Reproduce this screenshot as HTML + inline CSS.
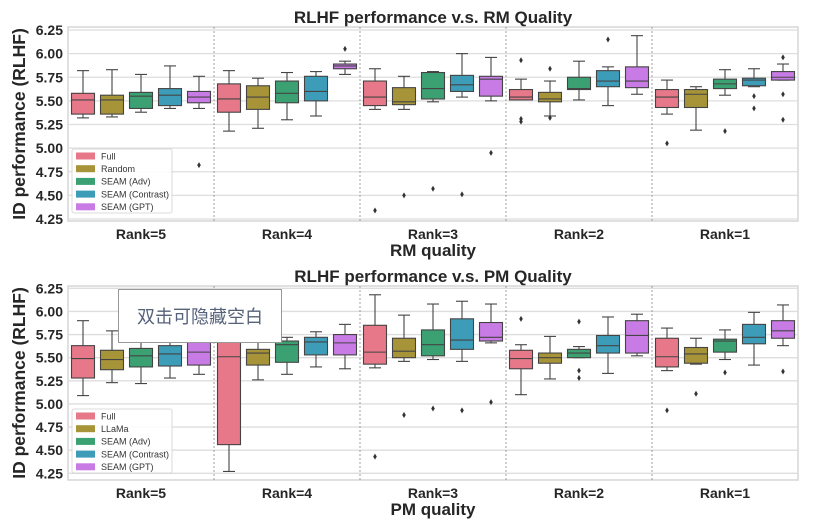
<!DOCTYPE html>
<html><head><meta charset="utf-8"><style>
body{margin:0;background:#fff;}
svg{display:block;font-family:"Liberation Sans","Noto Sans CJK SC",sans-serif;}
</style></head><body>
<svg id="fig" width="820" height="523" viewBox="0 0 820 523"></svg>
<script>
const ranks = ["Rank=5","Rank=4","Rank=3","Rank=2","Rank=1"];
const yTicks = [6.25,6.00,5.75,5.50,5.25,5.00,4.75,4.50,4.25];
const rmSeriesNames = ["Full","Random","SEAM (Adv)","SEAM (Contrast)","SEAM (GPT)"];
const pmSeriesNames = ["Full","LLaMa","SEAM (Adv)","SEAM (Contrast)","SEAM (GPT)"];
const colors = ["#e6788a","#a79438","#3ba172","#3d9db8","#c87be4"];
// [low whisker, q1, median, q3, high whisker] per rank
const rmFull = [[5.32,5.36,5.51,5.58,5.82],[5.18,5.38,5.52,5.68,5.82],[5.41,5.45,5.54,5.71,5.84],[5.51,5.51,5.54,5.62,5.73],[5.36,5.43,5.54,5.62,5.72]];
const rmRandom = [[5.33,5.36,5.51,5.56,5.83],[5.21,5.41,5.54,5.66,5.74],[5.41,5.46,5.49,5.64,5.76],[5.34,5.49,5.52,5.59,5.71],[5.19,5.43,5.57,5.62,5.65]];
const rmAdv = [[5.38,5.42,5.55,5.59,5.78],[5.30,5.48,5.58,5.71,5.80],[5.49,5.52,5.63,5.80,5.81],[5.51,5.62,5.63,5.75,5.92],[5.56,5.63,5.68,5.73,5.83]];
const rmContrast = [[5.42,5.45,5.56,5.63,5.87],[5.34,5.50,5.60,5.76,5.81],[5.54,5.60,5.67,5.77,6.00],[5.45,5.65,5.71,5.82,5.86],[5.65,5.66,5.72,5.74,5.84]];
const rmGPT = [[5.42,5.48,5.54,5.60,5.76],[5.78,5.84,5.87,5.89,5.92],[5.50,5.55,5.73,5.76,5.96],[5.57,5.64,5.71,5.86,6.19],[5.72,5.72,5.75,5.81,5.89]];
const rmOutliers = [[[],[],[],[],[4.82]],[[],[],[],[],[6.05]],[[4.34],[4.50],[4.57],[4.51],[4.95]],[[5.93,5.31,5.28],[5.84,5.32],[],[6.15],[]],[[5.05],[],[5.18],[5.55,5.42],[5.96,5.57,5.30]]];
const pmFull = [[5.09,5.28,5.49,5.63,5.90],[4.27,4.56,5.51,5.70,5.85],[5.39,5.43,5.56,5.85,6.18],[5.10,5.38,5.49,5.58,5.64],[5.36,5.40,5.51,5.71,5.82]];
const pmLLaMa = [[5.23,5.37,5.48,5.58,5.79],[5.26,5.42,5.55,5.59,5.70],[5.46,5.50,5.57,5.71,5.96],[5.27,5.44,5.50,5.55,5.73],[5.43,5.44,5.54,5.61,5.71]];
const pmAdv = [[5.22,5.40,5.52,5.60,5.85],[5.32,5.45,5.64,5.68,5.72],[5.48,5.52,5.64,5.80,6.08],[5.50,5.50,5.55,5.59,5.62],[5.48,5.56,5.68,5.70,5.80]];
const pmContrast = [[5.28,5.41,5.54,5.63,5.80],[5.40,5.53,5.67,5.72,5.78],[5.46,5.59,5.69,5.92,6.11],[5.33,5.55,5.63,5.74,5.94],[5.42,5.65,5.72,5.86,5.99]];
const pmGPT = [[5.32,5.42,5.56,5.68,5.82],[5.38,5.53,5.66,5.75,5.86],[5.66,5.68,5.72,5.88,6.08],[5.52,5.55,5.74,5.90,5.97],[5.63,5.71,5.79,5.90,6.07]];
const pmOutliers = [[[],[],[],[],[]],[[],[],[],[],[]],[[4.43],[4.88],[4.95],[4.93],[5.02]],[[5.92],[],[5.89,5.36,5.28],[],[]],[[4.93],[5.11],[5.34],[],[5.35]]];

const NS="http://www.w3.org/2000/svg";
const svg=document.getElementById('fig');
function mk(tag,attrs,parent){const e=document.createElementNS(NS,tag);for(const k in attrs)e.setAttribute(k,attrs[k]);(parent||svg).appendChild(e);return e;}

function drawPanel(p){
  const g=mk('g',{});
  
  
  const X0=68,X1=798,groupW=(X1-X0)/ranks.length;
  const yS=v=>p.y625+(6.25-v)*p.unit;
  const xS=(r,s)=>X0+groupW*(r+0.5)+(s-2)*29;
  const t=mk('text',{x:433,y:p.titleY,'text-anchor':'middle','font-size':17,'font-weight':'bold',fill:'#262626'},g);
  t.textContent=p.title;
  
  
  const bg=mk('rect',{x:X0,y:p.top,width:X1-X0,height:p.bottom-p.top,fill:'#fff',stroke:'#d6d6d6','stroke-width':1.5},g);
  
  
  yTicks.forEach(v=>{
    const y=yS(v);
    const gl=mk('line',{x1:X0,x2:X1,y1:y,y2:y,stroke:'#dedede','stroke-width':1.3},g);
    
    
    const tl=mk('text',{x:63,y:y+5,'text-anchor':'end','font-size':14,'font-weight':'bold',fill:'#262626'},g);
    tl.textContent=v.toFixed(2);
    
    
  });
  for(let r=1;r<ranks.length;r++){
    const x=X0+groupW*r;
    const d=mk('line',{x1:x,x2:x,y1:p.top,y2:p.bottom,stroke:'#888','stroke-width':0.8,'stroke-dasharray':'2,2'},g);
    
    
  }
  ranks.forEach((rk,r)=>{
    const xl=mk('text',{x:X0+groupW*(r+0.5),y:p.bottom+18,'text-anchor':'middle','font-size':14,'font-weight':'bold',fill:'#262626'},g);
    xl.textContent=rk;
    
    
  });
  const xt=mk('text',{x:433,y:p.bottom+35,'text-anchor':'middle','font-size':17,'font-weight':'bold',fill:'#262626'},g);
  xt.textContent=p.xTitle;
  
  
  const cy=(p.top+p.bottom)/2;
  const yt=mk('text',{x:0,y:0,transform:`translate(25,${cy}) rotate(-90)`,'text-anchor':'middle','font-size':17.5,'font-weight':'bold',fill:'#262626'},g);
  yt.textContent='ID performance (RLHF)';
  
  
  const bw=23;
  p.series.forEach((ser,s)=>{
    ser.forEach((st,r)=>{
      const x=xS(r,s);
      const bg2=mk('g',{},g);
      
      
      const ln={stroke:'#444','stroke-width':1.1};
      mk('line',Object.assign({x1:x,x2:x,y1:yS(st[4]),y2:yS(st[3])},ln),bg2);
      mk('line',Object.assign({x1:x,x2:x,y1:yS(st[1]),y2:yS(st[0])},ln),bg2);
      mk('line',Object.assign({x1:x-6,x2:x+6,y1:yS(st[4]),y2:yS(st[4])},ln),bg2);
      mk('line',Object.assign({x1:x-6,x2:x+6,y1:yS(st[0]),y2:yS(st[0])},ln),bg2);
      mk('rect',{x:x-bw/2,y:yS(st[3]),width:bw,height:Math.max(1,yS(st[1])-yS(st[3])),fill:colors[s],stroke:'#444','stroke-width':1.1},bg2);
      mk('line',Object.assign({x1:x-bw/2,x2:x+bw/2,y1:yS(st[2]),y2:yS(st[2])},ln),bg2);
      p.outliers[r][s].forEach(v=>{
        const o=mk('path',{d:`M${x},${yS(v)-3}L${x+1.8},${yS(v)}L${x},${yS(v)+3}L${x-1.8},${yS(v)}Z`,fill:'#333'},g);
        
        
      });
    });
  });
  const lg=mk('g',{},g);
  
  
  mk('rect',{x:72,y:p.legY,width:100,height:64,fill:'#fff','fill-opacity':0.85,stroke:'#d0d0d0','stroke-width':0.8,rx:2},lg);
  p.names.forEach((n,i)=>{
    const e=mk('g',{},lg);
    
    
    const yy=p.legY+7+i*12.7;
    mk('rect',{x:76,y:yy-3.5,width:19,height:7,fill:colors[i]},e);
    const tx=mk('text',{x:101,y:yy+3.3,'font-size':9,fill:'#333'},e);
    tx.textContent=n;
  });
}
drawPanel({key:'rm',title:'RLHF performance v.s. RM Quality',xTitle:'RM quality',titleY:23,top:27,bottom:221,y625:30,unit:94.5,legY:149,names:rmSeriesNames,series:[rmFull,rmRandom,rmAdv,rmContrast,rmGPT],outliers:rmOutliers});
drawPanel({key:'pm',title:'RLHF performance v.s. PM Quality',xTitle:'PM quality',titleY:282,top:286,bottom:480,y625:288.3,unit:92.5,legY:409,names:pmSeriesNames,series:[pmFull,pmLLaMa,pmAdv,pmContrast,pmGPT],outliers:pmOutliers});
const pop=mk('g',{});


mk('rect',{x:118.5,y:289.5,width:163,height:53,fill:'#fff',stroke:'#999','stroke-width':1},pop);
const pt=mk('text',{x:200,y:323,'text-anchor':'middle','font-size':18,fill:'#56627a'},pop);
pt.textContent='双击可隐藏空白';
</script>
</body></html>
